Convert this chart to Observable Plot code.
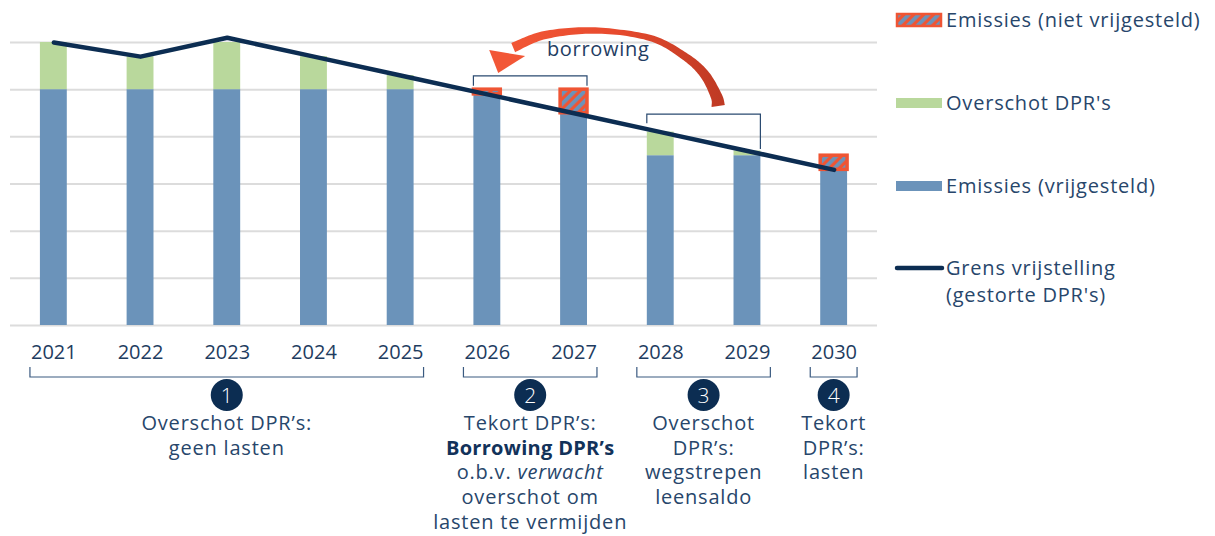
<!DOCTYPE html>
<html><head><meta charset="utf-8">
<script src="https://cdn.jsdelivr.net/npm/d3@7"></script>
<script src="https://cdn.jsdelivr.net/npm/@observablehq/plot@0.6"></script>
<style>
html,body{margin:0;padding:0;background:#fff;}
#chart{width:1215px;height:536px;overflow:hidden;}
</style></head><body><div id="chart"></div>
<script>
// ---- data ----
const years = ["2021","2022","2023","2024","2025","2026","2027","2028","2029","2030"];
const exempt    = [50, 50, 50, 50, 50, 49, 45, 36, 36, 33];   // Emissies (vrijgesteld)
const surplus   = [10,  7, 10,  7,  3,  0,  0,  5,  1,  0];   // Overschot DPR's
const nonExempt = [ 0,  0,  0,  0,  0,  1,  5,  0,  0,  3];   // Emissies (niet vrijgesteld)
const limit     = [60, 57, 61, 57, 53, 49, 45, 41, 37, 33];   // Grens vrijstelling
const gridTicks = [0, 10, 20, 30, 40, 50, 60];

const legendLabels = ["Emissies (niet vrijgesteld)", "Overschot DPR's", "Emissies (vrijgesteld)", "Grens vrijstelling", "(gestorte DPR's)"];
const arrowLabel = "borrowing";

const groupRanges = [[0,4],[5,6],[7,8],[9,9]];
const groupNumbers = ["1","2","3","4"];
const groupTexts = [
  [[["Overschot DPR’s:",""]], [["geen lasten",""]]],
  [[["Tekort DPR’s:",""]], [["Borrowing DPR’s","b"]], [["o.b.v. ",""],["verwacht","i"]], [["overschot om",""]], [["lasten te vermijden",""]]],
  [[["Overschot",""]], [["DPR’s:",""]], [["wegstrepen",""]], [["leensaldo",""]]],
  [[["Tekort",""]], [["DPR’s:",""]], [["lasten",""]]]
];
// top brackets: [fromIndex, toIndex, top value, left tick end, right tick end]
const topBrackets = [[5, 6, 52.8, 50.7, 50.7], [7, 8, 44.7, 42.8, 37.3]];
// arrow centre line (fractional year index, value) and head
const arrowPath = [[5.304, 58.83], [5.673, 61.48], [6.25, 62.44], [6.884, 60.85],
                   [7.276, 57.03], [7.507, 53.22], [7.646, 48.55], [7.669, 46.43]];
const arrowHead = [[5.027, 58.3], [5.131, 53.43], [5.442, 57.03]];
const arrowTextPos = [6.285, 58.5];

// ---- styles ----
const BLUE = "#6b93ba", GREEN = "#b9d89c", RED = "#ef5534", NAVY = "#0c2d52";
const TEXT = "#27466b", GRID = "#dcdcdc";
const FONT = "'Open Sans', 'Noto Sans', sans-serif";

// stacked rows
const rows = [];
years.forEach((yr, i) => {
  let acc = 0;
  [["exempt", exempt[i]], ["surplus", surplus[i]], ["non", nonExempt[i]]].forEach(([s, v]) => {
    if (v > 0) rows.push({year: yr, series: s, y1: acc, y2: acc + v});
    acc += v;
  });
});
const lineData = years.map((y, i) => ({year: y, v: limit[i]}));

function catmull(pts, steps) {
  const out = [];
  const n = pts.length;
  for (let i = 0; i < n - 1; i++) {
    const p0 = pts[Math.max(0, i - 1)], p1 = pts[i], p2 = pts[i + 1], p3 = pts[Math.min(n - 1, i + 2)];
    for (let k = 0; k < steps; k++) {
      const t = k / steps, t2 = t * t, t3 = t2 * t;
      const pt = [0, 1].map(j => 0.5 * (2 * p1[j] + (-p0[j] + p2[j]) * t + (2 * p0[j] - 5 * p1[j] + 4 * p2[j] - p3[j]) * t2 + (-p0[j] + 3 * p1[j] - 3 * p2[j] + p3[j]) * t3));
      out.push(pt);
    }
  }
  out.push(pts[n - 1]);
  return out;
}

function overlay(index, scales, values, dims) {
  const sx = scales.x, sy = scales.y;
  const bw = sx.bandwidth();
  const step = sx.step();
  const X = f => sx(years[0]) + bw / 2 + f * step;
  const base = sy(0);
  const g = d3.create("svg:g").attr("font-family", FONT);

  // defs
  const defs = g.append("defs");
  const pat = defs.append("pattern").attr("id", "hatch").attr("patternUnits", "userSpaceOnUse")
    .attr("width", 7).attr("height", 7).attr("patternTransform", "rotate(45)");
  pat.append("rect").attr("width", 7).attr("height", 7).attr("fill", RED);
  pat.append("rect").attr("width", 3.8).attr("height", 7).attr("fill", BLUE);
  const grad = defs.append("linearGradient").attr("id", "arrowGrad").attr("gradientUnits", "userSpaceOnUse")
    .attr("x1", X(5.2)).attr("x2", X(7.7)).attr("y1", 0).attr("y2", 0);
  grad.append("stop").attr("offset", 0).attr("stop-color", "#f25736");
  grad.append("stop").attr("offset", 0.5).attr("stop-color", "#e84b2e");
  grad.append("stop").attr("offset", 1).attr("stop-color", "#bf3a24");

  // top brackets
  topBrackets.forEach(([a, b, top, e1, e2]) => {
    const x1 = X(a) - bw / 2, x2 = X(b) + bw / 2;
    g.append("path").attr("fill", "none").attr("stroke", "#2a4a70").attr("stroke-width", 1.2)
      .attr("d", `M${x1},${sy(e1)}V${sy(top)}H${x2}V${sy(e2)}`);
  });

  // arrow body with varying width
  const C = catmull(arrowPath.map(([f, v]) => [X(f), sy(v)]), 16);
  const M = C.length - 1, upper = [], lower = [];
  C.forEach((p, k) => {
    const a = C[Math.max(0, k - 1)], b = C[Math.min(M, k + 1)];
    const dx = b[0] - a[0], dy = b[1] - a[1], len = Math.hypot(dx, dy) || 1;
    const nx = -dy / len, ny = dx / len;
    const t = k / M;
    const w = t < 0.35 ? 10 - 4.5 * (t / 0.35) : 5.5 + 8 * Math.pow((t - 0.35) / 0.65, 1.2);
    upper.push([p[0] + nx * w / 2, p[1] + ny * w / 2]);
    lower.push([p[0] - nx * w / 2, p[1] - ny * w / 2]);
  });
  const poly = upper.concat(lower.reverse());
  g.append("path").attr("fill", "url(#arrowGrad)").attr("d", "M" + poly.map(p => p.join(",")).join("L") + "Z");
  const H = arrowHead.map(([f, v]) => [X(f), sy(v)]);
  g.append("path").attr("fill", "#f25736").attr("d", "M" + H.map(p => p.join(",")).join("L") + "Z");
  g.append("text").attr("x", X(arrowTextPos[0])).attr("y", sy(arrowTextPos[1])).attr("dy", "0.35em")
    .attr("text-anchor", "middle").attr("font-size", 20).attr("letter-spacing", 0.7)
    .attr("fill", "#1f3d63").text(arrowLabel);

  // bottom groups
  groupRanges.forEach(([a, b], gi) => {
    const x1 = X(a) - 0.27 * step, x2 = X(b) + 0.27 * step, cx = (X(a) + X(b)) / 2;
    g.append("path").attr("fill", "none").attr("stroke", "#3a5a80").attr("stroke-width", 1.2)
      .attr("d", `M${x1},${base + 42}V${base + 52}H${x2}V${base + 42}`);
    g.append("circle").attr("cx", cx).attr("cy", base + 70).attr("r", 16).attr("fill", NAVY);
    g.append("text").attr("x", cx).attr("y", base + 70).attr("dy", "0.36em").attr("text-anchor", "middle")
      .attr("font-size", 21).attr("fill", "#fff").attr("font-weight", 300).text(groupNumbers[gi]);
    groupTexts[gi].forEach((line, li) => {
      const t = g.append("text").attr("x", cx).attr("y", base + 98 + li * 24.7).attr("dy", "0.35em")
        .attr("text-anchor", "middle").attr("font-size", 20).attr("letter-spacing", 0.8).attr("fill", TEXT);
      line.forEach(([s, st]) => {
        const ts = t.append("tspan").text(s);
        if (st === "b") ts.attr("font-weight", 700).attr("fill", "#12325a").attr("letter-spacing", 0.3);
        if (st === "i") ts.attr("font-style", "italic");
      });
    });
  });

  // legend
  const lx = dims.width - dims.marginRight + 19;
  const lt = lx + 50;
  const leg = g.append("g");
  leg.append("rect").attr("x", lx + 1).attr("y", 14).attr("width", 44).attr("height", 12)
    .attr("fill", "url(#hatch)").attr("stroke", RED).attr("stroke-width", 2.5);
  leg.append("rect").attr("x", lx).attr("y", 98).attr("width", 46).attr("height", 10).attr("fill", GREEN);
  leg.append("rect").attr("x", lx).attr("y", 181).attr("width", 46).attr("height", 10).attr("fill", BLUE);
  leg.append("line").attr("x1", lx + 1).attr("x2", lx + 46).attr("y1", 268).attr("y2", 268)
    .attr("stroke", NAVY).attr("stroke-width", 4.5).attr("stroke-linecap", "round");
  const ly = [20, 103, 186, 268, 295];
  legendLabels.forEach((s, i) => {
    leg.append("text").attr("x", lt).attr("y", ly[i]).attr("dy", "0.35em").attr("text-anchor", "start")
      .attr("font-size", 20).attr("letter-spacing", 0.8).attr("fill", TEXT).text(s);
  });
  return g.node();
}

const chart = Plot.plot({
  width: 1215,
  height: 536,
  marginLeft: 10,
  marginRight: 338,
  marginTop: 42,
  marginBottom: 211,
  style: {fontFamily: FONT, fontSize: "20px", color: "#1e3c60", background: "#fff", overflow: "visible"},
  x: {domain: years, paddingInner: 0.69, paddingOuter: 0.345, round: false, tickSize: 0, tickPadding: 19, label: null},
  y: {domain: [0, 60], axis: null},
  marks: [
    Plot.ruleY(gridTicks, {stroke: GRID, strokeWidth: 2}),
    Plot.barY(rows.filter(d => d.series === "exempt"), {x: "year", y1: "y1", y2: "y2", fill: BLUE}),
    Plot.barY(rows.filter(d => d.series === "surplus"), {x: "year", y1: "y1", y2: "y2", fill: GREEN}),
    Plot.barY(rows.filter(d => d.series === "non"), {x: "year", y1: "y1", y2: "y2", fill: "url(#hatch)", stroke: RED, strokeWidth: 3.5}),
    Plot.line(lineData, {x: "year", y: "v", stroke: NAVY, strokeWidth: 4.5, strokeLinecap: "round", strokeLinejoin: "round"}),
    overlay
  ]
});
document.getElementById("chart").appendChild(chart);
</script>
</body></html>
